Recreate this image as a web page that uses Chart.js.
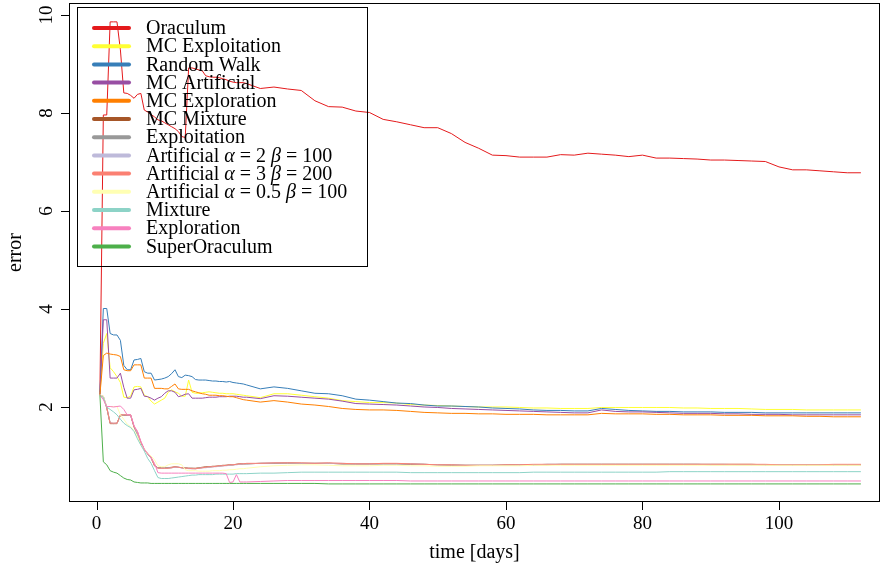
<!DOCTYPE html>
<html>
<head>
<meta charset="utf-8">
<script src="https://cdn.jsdelivr.net/npm/chart.js@4/dist/chart.umd.min.js"></script>
<style>
  body { margin: 0; background: #fff; }
</style>
</head>
<body>
<canvas id="myChart" width="881" height="570"></canvas>
<script>
// time axis (days): half-day steps up to day 22, then every 2 days
var days = [0.5, 1, 1.5, 2, 2.5, 3, 3.5, 4, 4.5, 5, 5.5, 6, 6.5, 7, 7.5, 8, 8.5, 9, 9.5, 10,
  10.5, 11, 11.5, 12, 12.5, 13, 13.5, 14, 14.5, 15, 15.5, 16, 16.5, 17, 17.5, 18, 18.5, 19, 19.5, 20,
  20.5, 21, 21.5, 22,
  24, 26, 28, 30, 32, 34, 36, 38, 40, 42, 44, 46, 48, 50, 52, 54, 56, 58, 60, 62,
  64, 66, 68, 70, 72, 74, 76, 78, 80, 82, 84, 86, 88, 90, 92, 94, 96, 98, 100, 102,
  104, 106, 108, 110, 112];

var oraculum = [2.30, 7.96, 7.96, 9.86, 9.86, 9.86, 9.29, 8.41, 8.40, 8.36,
  8.30, 8.38, 8.40, 8.06, 8.02, 7.97, 7.92, 7.86, 7.84, 7.80,
  7.76, 7.72, 7.68, 7.62, 7.52, 7.50, 8.92, 8.92, 8.90, 8.88,
  8.86, 8.76, 8.74, 8.73, 8.73, 8.72, 8.70, 8.68, 8.65, 8.63,
  8.62, 8.62, 8.62, 8.60,
  8.50, 8.53, 8.49, 8.46, 8.25, 8.13, 8.12, 8.04, 8.01, 7.87,
  7.82, 7.76, 7.70, 7.70, 7.58, 7.40, 7.28, 7.14, 7.13, 7.10,
  7.10, 7.10, 7.15, 7.14, 7.18, 7.16, 7.14, 7.11, 7.14, 7.08,
  7.08, 7.07, 7.06, 7.04, 7.04, 7.03, 7.02, 7.01, 6.90, 6.84,
  6.84, 6.82, 6.80, 6.78, 6.78];

var mcExploitation = [2.25, 3.30, 3.50, 2.80, 2.72, 2.62, 2.50, 2.20, 2.19, 2.22,
  2.41, 2.42, 2.41, 2.24, 2.21, 2.12, 2.06, 2.10, 2.14, 2.18,
  2.30, 2.35, 2.31, 2.28, 2.22, 2.22, 2.55, 2.30, 2.28, 2.28,
  2.29, 2.30, 2.31, 2.30, 2.29, 2.28, 2.28, 2.27, 2.27, 2.27,
  2.26, 2.25, 2.24, 2.23,
  2.19, 2.27, 2.27, 2.24, 2.21, 2.18, 2.13, 2.11, 2.09, 2.09,
  2.08, 2.05, 2.04, 2.03, 2.02, 2.01, 2.00, 2.00, 2.00, 1.99,
  1.98, 1.98, 1.97, 1.97, 1.97, 1.99, 1.99, 1.99, 1.99, 1.99,
  1.99, 1.98, 1.98, 1.97, 1.97, 1.97, 1.96, 1.95, 1.95, 1.95,
  1.94, 1.94, 1.94, 1.94, 1.94];

var randomWalk = [2.26, 4.01, 4.01, 3.50, 3.47, 3.47, 3.36, 2.85, 2.76, 2.76,
  2.96, 2.97, 2.99, 2.72, 2.69, 2.69, 2.55, 2.56, 2.57, 2.59,
  2.62, 2.68, 2.76, 2.62, 2.60, 2.65, 2.64, 2.62, 2.56, 2.55,
  2.55, 2.55, 2.54, 2.53, 2.53, 2.52, 2.52, 2.51, 2.52, 2.50,
  2.49, 2.48, 2.47, 2.45,
  2.37, 2.41, 2.38, 2.33, 2.28, 2.27, 2.23, 2.16, 2.14, 2.11,
  2.08, 2.07, 2.04, 2.02, 2.02, 2.01, 2.00, 1.98, 1.97, 1.96,
  1.94, 1.93, 1.93, 1.92, 1.92, 1.97, 1.95, 1.93, 1.92, 1.91,
  1.91, 1.90, 1.90, 1.90, 1.89, 1.89, 1.89, 1.88, 1.88, 1.88,
  1.88, 1.88, 1.88, 1.88, 1.88];

var mcArtificial = [2.25, 3.78, 3.78, 2.59, 2.59, 2.59, 2.69, 2.40, 2.18, 2.18,
  2.35, 2.36, 2.38, 2.22, 2.21, 2.18, 2.14, 2.18, 2.21, 2.28,
  2.33, 2.33, 2.30, 2.21, 2.23, 2.26, 2.27, 2.18, 2.18, 2.18,
  2.18, 2.19, 2.20, 2.20, 2.20, 2.21, 2.21, 2.21, 2.22, 2.22,
  2.22, 2.21, 2.20, 2.20,
  2.17, 2.23, 2.22, 2.20, 2.18, 2.16, 2.12, 2.07, 2.06, 2.05,
  2.04, 2.02, 2.00, 1.99, 1.97, 1.96, 1.95, 1.94, 1.93, 1.92,
  1.91, 1.90, 1.89, 1.88, 1.88, 1.94, 1.91, 1.90, 1.90, 1.89,
  1.88, 1.87, 1.87, 1.87, 1.86, 1.86, 1.85, 1.85, 1.85, 1.84,
  1.84, 1.84, 1.84, 1.84, 1.84];

var mcExploration = [2.25, 3.05, 3.10, 3.08, 3.07, 3.06, 3.03, 2.76, 2.74, 2.74,
  2.86, 2.86, 2.86, 2.59, 2.59, 2.59, 2.38, 2.38, 2.38, 2.37,
  2.37, 2.42, 2.47, 2.37, 2.36, 2.36, 2.36, 2.33, 2.31, 2.29,
  2.27, 2.26, 2.24, 2.24, 2.24, 2.23, 2.23, 2.22, 2.21, 2.21,
  2.19, 2.17, 2.15, 2.14,
  2.10, 2.13, 2.10, 2.06, 2.04, 2.01, 1.97, 1.95, 1.94, 1.94,
  1.93, 1.91, 1.89, 1.88, 1.87, 1.87, 1.86, 1.86, 1.85, 1.85,
  1.85, 1.84, 1.84, 1.84, 1.84, 1.87, 1.86, 1.86, 1.86, 1.85,
  1.85, 1.84, 1.84, 1.84, 1.83, 1.83, 1.83, 1.82, 1.82, 1.82,
  1.81, 1.81, 1.80, 1.80, 1.80];

var mcMixture = [2.24, 2.20, 1.98, 1.66, 1.66, 1.66, 1.83, 1.83, 1.83, 1.83,
  1.59, 1.44, 1.27, 1.13, 1.04, 0.96, 0.80, 0.76, 0.76, 0.76,
  0.76, 0.77, 0.78, 0.77, 0.76, 0.76, 0.75, 0.75, 0.75, 0.76,
  0.77, 0.78, 0.78, 0.79, 0.79, 0.80, 0.81, 0.81, 0.82, 0.82,
  0.83, 0.84, 0.84, 0.84,
  0.85, 0.85, 0.86, 0.85, 0.85, 0.85, 0.84, 0.84, 0.84, 0.84,
  0.84, 0.83, 0.83, 0.82, 0.81, 0.81, 0.81, 0.81, 0.81, 0.82,
  0.82, 0.82, 0.83, 0.83, 0.83, 0.83, 0.83, 0.83, 0.83, 0.83,
  0.83, 0.83, 0.83, 0.83, 0.83, 0.83, 0.83, 0.82, 0.82, 0.82,
  0.82, 0.82, 0.82, 0.82, 0.82];

var exploitation = [2.24, 2.21, 1.99, 1.67, 1.66, 1.67, 1.83, 1.84, 1.83, 1.84,
  1.60, 1.46, 1.28, 1.14, 1.04, 0.97, 0.81, 0.76, 0.75, 0.76,
  0.76, 0.76, 0.77, 0.77, 0.76, 0.75, 0.75, 0.75, 0.74, 0.75,
  0.76, 0.77, 0.77, 0.78, 0.79, 0.79, 0.80, 0.81, 0.81, 0.82,
  0.83, 0.83, 0.84, 0.84,
  0.85, 0.85, 0.85, 0.85, 0.85, 0.85, 0.84, 0.84, 0.84, 0.84,
  0.84, 0.84, 0.83, 0.82, 0.82, 0.81, 0.81, 0.81, 0.82, 0.82,
  0.82, 0.83, 0.83, 0.83, 0.83, 0.83, 0.83, 0.83, 0.83, 0.83,
  0.83, 0.83, 0.83, 0.82, 0.82, 0.82, 0.82, 0.82, 0.82, 0.82,
  0.82, 0.82, 0.82, 0.82, 0.82];

var artificialA2 = [2.24, 2.22, 2.00, 1.68, 1.67, 1.67, 1.83, 1.84, 1.84, 1.83,
  1.61, 1.45, 1.29, 1.14, 1.05, 0.96, 0.80, 0.75, 0.75, 0.75,
  0.75, 0.76, 0.77, 0.77, 0.76, 0.75, 0.74, 0.74, 0.74, 0.75,
  0.76, 0.76, 0.77, 0.78, 0.78, 0.79, 0.80, 0.80, 0.81, 0.82,
  0.82, 0.83, 0.84, 0.84,
  0.85, 0.86, 0.86, 0.85, 0.85, 0.85, 0.85, 0.84, 0.84, 0.84,
  0.84, 0.84, 0.83, 0.82, 0.82, 0.81, 0.81, 0.81, 0.81, 0.82,
  0.82, 0.83, 0.83, 0.83, 0.83, 0.83, 0.83, 0.83, 0.83, 0.83,
  0.83, 0.83, 0.83, 0.83, 0.83, 0.82, 0.82, 0.82, 0.82, 0.82,
  0.82, 0.82, 0.82, 0.82, 0.82];

var artificialA3 = [2.24, 2.22, 2.00, 1.67, 1.67, 1.67, 1.84, 1.84, 1.84, 1.84,
  1.60, 1.50, 1.28, 1.14, 1.05, 0.97, 0.80, 0.75, 0.75, 0.75,
  0.75, 0.76, 0.78, 0.77, 0.76, 0.75, 0.75, 0.74, 0.74, 0.75,
  0.76, 0.77, 0.78, 0.78, 0.79, 0.80, 0.80, 0.81, 0.82, 0.82,
  0.83, 0.84, 0.84, 0.85,
  0.85, 0.86, 0.86, 0.86, 0.85, 0.86, 0.85, 0.84, 0.84, 0.85,
  0.85, 0.84, 0.83, 0.82, 0.82, 0.81, 0.81, 0.81, 0.82, 0.82,
  0.83, 0.83, 0.83, 0.83, 0.83, 0.83, 0.83, 0.83, 0.83, 0.83,
  0.83, 0.83, 0.83, 0.83, 0.83, 0.83, 0.83, 0.83, 0.82, 0.82,
  0.82, 0.82, 0.83, 0.83, 0.83];

var artificialA05 = [2.24, 2.22, 2.01, 2.01, 2.01, 2.01, 1.84, 1.75, 1.65, 1.60,
  1.52, 1.40, 1.22, 1.15, 1.05, 1.00, 0.92, 0.80, 0.78, 0.78,
  0.82, 0.84, 0.84, 0.84, 0.82, 0.72, 0.70, 0.70, 0.70, 0.69,
  0.69, 0.69, 0.69, 0.70, 0.70, 0.70, 0.71, 0.71, 0.72, 0.72,
  0.73, 0.74, 0.74, 0.75,
  0.78, 0.80, 0.81, 0.82, 0.82, 0.81, 0.80, 0.80, 0.80, 0.81,
  0.81, 0.80, 0.80, 0.79, 0.79, 0.79, 0.80, 0.80, 0.80, 0.80,
  0.81, 0.81, 0.81, 0.81, 0.81, 0.81, 0.81, 0.81, 0.81, 0.81,
  0.81, 0.81, 0.81, 0.81, 0.81, 0.81, 0.81, 0.81, 0.81, 0.81,
  0.81, 0.81, 0.81, 0.81, 0.81];

var mixture = [2.24, 2.20, 2.00, 1.95, 1.90, 1.84, 1.75, 1.67, 1.62, 1.58,
  1.50, 1.35, 1.22, 1.10, 0.95, 0.85, 0.70, 0.56, 0.54, 0.54,
  0.54, 0.55, 0.56, 0.57, 0.58, 0.59, 0.60, 0.61, 0.61, 0.62,
  0.62, 0.62, 0.62, 0.62, 0.63, 0.63, 0.63, 0.63, 0.63, 0.63,
  0.64, 0.64, 0.64, 0.64,
  0.65, 0.65, 0.66, 0.67, 0.67, 0.67, 0.67, 0.67, 0.67, 0.67,
  0.67, 0.66, 0.66, 0.66, 0.66, 0.66, 0.66, 0.66, 0.66, 0.66,
  0.67, 0.67, 0.67, 0.67, 0.67, 0.67, 0.67, 0.67, 0.67, 0.67,
  0.68, 0.68, 0.68, 0.68, 0.68, 0.68, 0.68, 0.68, 0.68, 0.68,
  0.68, 0.68, 0.68, 0.68, 0.68];

var exploration = [2.24, 2.15, 2.01, 2.01, 2.00, 2.01, 2.02, 1.95, 1.84, 1.84,
  1.62, 1.50, 1.30, 1.14, 1.05, 0.97, 0.85, 0.66, 0.65, 0.65,
  0.65, 0.65, 0.65, 0.65, 0.65, 0.65, 0.65, 0.65, 0.65, 0.65,
  0.65, 0.65, 0.65, 0.65, 0.65, 0.65, 0.65, 0.64, 0.46, 0.47,
  0.62, 0.47, 0.47, 0.47,
  0.48, 0.49, 0.50, 0.50, 0.50, 0.50, 0.50, 0.50, 0.50, 0.50,
  0.50, 0.49, 0.49, 0.49, 0.49, 0.49, 0.49, 0.49, 0.49, 0.49,
  0.49, 0.49, 0.49, 0.49, 0.49, 0.49, 0.49, 0.49, 0.49, 0.49,
  0.49, 0.49, 0.49, 0.49, 0.49, 0.49, 0.49, 0.49, 0.49, 0.49,
  0.49, 0.49, 0.49, 0.49, 0.49];

var superOraculum = [2.24, 0.88, 0.82, 0.70, 0.67, 0.65, 0.60, 0.55, 0.52, 0.51,
  0.47, 0.46, 0.45, 0.45, 0.45, 0.44, 0.44, 0.44, 0.44, 0.44,
  0.44, 0.44, 0.44, 0.44, 0.44, 0.44, 0.44, 0.44, 0.44, 0.44,
  0.44, 0.44, 0.44, 0.44, 0.44, 0.44, 0.44, 0.44, 0.44, 0.44,
  0.44, 0.44, 0.44, 0.44,
  0.44, 0.44, 0.44, 0.44, 0.44, 0.43, 0.43, 0.43, 0.43, 0.43,
  0.43, 0.43, 0.43, 0.43, 0.43, 0.43, 0.43, 0.43, 0.43, 0.43,
  0.43, 0.43, 0.43, 0.43, 0.43, 0.43, 0.43, 0.43, 0.43, 0.43,
  0.43, 0.43, 0.43, 0.43, 0.43, 0.43, 0.43, 0.43, 0.43, 0.43,
  0.43, 0.43, 0.43, 0.43, 0.43];

var seriesNames = ['Oraculum', 'MC Exploitation', 'Random Walk', 'MC Artificial', 'MC Exploration',
  'MC Mixture', 'Exploitation', 'Artificial α = 2 β = 100', 'Artificial α = 3 β = 200',
  'Artificial α = 0.5 β = 100', 'Mixture', 'Exploration', 'SuperOraculum'];
var seriesValues = [oraculum, mcExploitation, randomWalk, mcArtificial, mcExploration,
  mcMixture, exploitation, artificialA2, artificialA3, artificialA05, mixture, exploration, superOraculum];
var seriesColors = ['#E41A1C', '#FFFF33', '#377EB8', '#984EA3', '#FF7F00', '#A65628', '#999999',
  '#BEBADA', '#FB8072', '#FFFFB3', '#8DD3C7', '#F781BF', '#4DAF4A'];

var xTicks = [0, 20, 40, 60, 80, 100];
var yTicks = [2, 4, 6, 8, 10];

var serif = '"Liberation Serif", "Times New Roman", serif';

// draw text where the greek letters are italic, like plotmath
function drawLabel(ctx, text, x, y) {
  var parts = text.split(/([αβ])/);
  parts.forEach(function(p) {
    if (!p) return;
    ctx.font = (p === 'α' || p === 'β' ? 'italic ' : '') + '20px ' + serif;
    ctx.fillText(p, x, y);
    x += ctx.measureText(p).width;
  });
}

var rAxes = {
  id: 'rAxes',
  afterDraw: function(chart) {
    var ctx = chart.ctx;
    var area = chart.chartArea;
    var xs = chart.scales.x, ys = chart.scales.y;
    ctx.save();
    ctx.strokeStyle = '#000';
    ctx.fillStyle = '#000';
    ctx.lineWidth = 1;
    ctx.strokeRect(area.left + 0.5, area.top + 0.5, area.right - area.left - 1, area.bottom - area.top - 1);

    // tick marks
    ctx.beginPath();
    xTicks.forEach(function(t) {
      var px = Math.round(xs.getPixelForValue(t)) + 0.5;
      ctx.moveTo(px, area.bottom);
      ctx.lineTo(px, area.bottom + 8);
    });
    yTicks.forEach(function(t) {
      var py = Math.round(ys.getPixelForValue(t)) + 0.5;
      ctx.moveTo(area.left, py);
      ctx.lineTo(area.left - 8, py);
    });
    ctx.stroke();

    // tick labels
    ctx.font = '19px ' + serif;
    ctx.textAlign = 'center';
    ctx.textBaseline = 'middle';
    xTicks.forEach(function(t) {
      ctx.fillText(String(t), xs.getPixelForValue(t), area.bottom + 22);
    });
    yTicks.forEach(function(t) {
      ctx.save();
      ctx.translate(area.left - 22, ys.getPixelForValue(t));
      ctx.rotate(-Math.PI / 2);
      ctx.fillText(String(t), 0, 0);
      ctx.restore();
    });

    // axis titles
    ctx.font = '20px ' + serif;
    ctx.fillText('time [days]', (area.left + area.right) / 2, 553);
    ctx.save();
    ctx.translate(16, (area.top + area.bottom) / 2);
    ctx.rotate(-Math.PI / 2);
    ctx.fillText('error', 0, 0);
    ctx.restore();

    // legend box
    ctx.strokeRect(77.5, 7.5, 290, 259);
    ctx.lineCap = 'round';
    ctx.lineWidth = 4;
    ctx.textAlign = 'left';
    seriesNames.forEach(function(name, i) {
      var y = 28 + i * 18.2;
      ctx.strokeStyle = seriesColors[i];
      ctx.beginPath();
      ctx.moveTo(94, y);
      ctx.lineTo(129, y);
      ctx.stroke();
      ctx.fillStyle = '#000';
      drawLabel(ctx, name, 146, y + 1);
    });
    ctx.restore();
  }
};

var datasets = seriesNames.map(function(name, i) {
  return {
    label: name,
    data: days.map(function(d, j) { return { x: d, y: seriesValues[i][j] }; }),
    borderColor: seriesColors[i],
    backgroundColor: seriesColors[i],
    borderWidth: 1,
    pointRadius: 0,
    fill: false,
    tension: 0,
    order: -i
  };
});

var ctx = document.getElementById('myChart').getContext('2d');
var chart = new Chart(ctx, {
  type: 'line',
  data: { datasets: datasets },
  options: {
    responsive: false,
    animation: false,
    layout: { padding: { left: 69, top: 3, right: 1, bottom: 68 } },
    scales: {
      x: { type: 'linear', display: false, min: -4.03, max: 114.8 },
      y: { type: 'linear', display: false, min: 0.061, max: 10.245 }
    },
    plugins: {
      legend: { display: false },
      tooltip: { enabled: false }
    }
  },
  plugins: [rAxes]
});
</script>
</body>
</html>
